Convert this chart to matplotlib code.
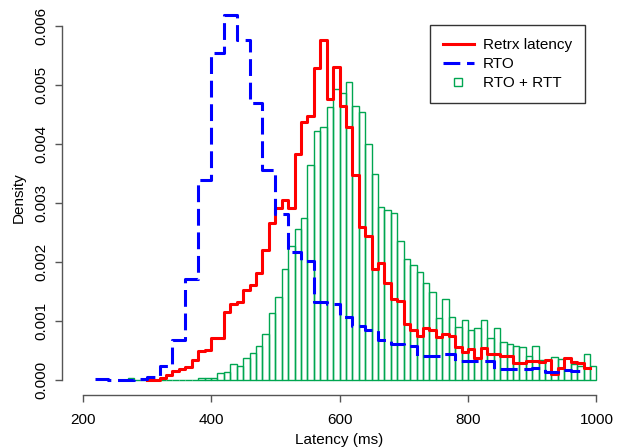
import matplotlib
matplotlib.use("Agg")
import matplotlib.pyplot as plt
import numpy as np
from matplotlib.lines import Line2D

plt.rcParams['font.family'] = ['Liberation Sans', 'DejaVu Sans']

# RTO + RTT histogram, 10 ms bins starting at 270 ms
rtt_start = 270
rtt_density = [
    0.00004, 0.0, 0.0, 0.0, 0.0, 0.0, 0.0, 0.0, 0.00001, 0.00001,
    0.0, 0.00004, 0.00004, 0.00004, 0.00013, 0.00014, 0.00027, 0.00024, 0.00038, 0.00047,
    0.00059, 0.00078, 0.00114, 0.00141, 0.00189, 0.00227, 0.00257, 0.00275, 0.00364, 0.00423,
    0.00429, 0.00462, 0.00493, 0.00486, 0.00505, 0.00464, 0.00455, 0.00400, 0.00349, 0.00294,
    0.00289, 0.00283, 0.00236, 0.00206, 0.00195, 0.00183, 0.00164, 0.00149, 0.00105, 0.00138,
    0.00107, 0.00090, 0.00103, 0.00085, 0.00089, 0.00102, 0.00072, 0.00088, 0.00065, 0.00061,
    0.00058, 0.00056, 0.00041, 0.00059, 0.00034, 0.00035, 0.00040, 0.00037, 0.00038, 0.00028,
    0.00025, 0.00044, 0.00025,
]

# retransmission latency, 10 ms bins starting at 300 ms
retrx_start = 300
retrx_density = [
    0.00001, 0.0, 0.00004, 0.00009, 0.00015, 0.00020, 0.00023, 0.00034, 0.00049, 0.00051,
    0.00072, 0.00072, 0.00115, 0.00129, 0.00133, 0.00153, 0.00161, 0.00182, 0.00221, 0.00267,
    0.00292, 0.00305, 0.00291, 0.00384, 0.00438, 0.00447, 0.00529, 0.00576, 0.00477, 0.00531,
    0.00464, 0.00429, 0.00347, 0.00260, 0.00245, 0.00189, 0.00199, 0.00164, 0.00137, 0.00135,
    0.00096, 0.00085, 0.00075, 0.00088, 0.00086, 0.00074, 0.00078, 0.00075, 0.00057, 0.00048,
    0.00053, 0.00038, 0.00055, 0.00045, 0.00044, 0.00042, 0.00041, 0.00030, 0.00030, 0.00033,
    0.00033, 0.00031, 0.00034, 0.00010, 0.00021, 0.00038, 0.00031, 0.00029, 0.00021,
]

# RTO, 20 ms bins starting at 220 ms
rto_start = 220
rto_density = [
    0.00002, 0.0, 0.00001, 0.00002, 0.00005, 0.00024, 0.00069, 0.00171, 0.00340, 0.00554,
    0.00619, 0.00576, 0.00470, 0.00357, 0.00281, 0.00217, 0.00202, 0.00132, 0.00129, 0.00107,
    0.00092, 0.00085, 0.00069, 0.00062, 0.00058, 0.00042, 0.00041, 0.00045, 0.00033, 0.00032,
    0.00032, 0.00020, 0.00020, 0.00020, 0.00021, 0.00014, 0.00018, 0.00016,
]

x_ticks = [200, 400, 600, 800, 1000]
y_ticks = [0.000, 0.001, 0.002, 0.003, 0.004, 0.005, 0.006]

green = '#00a651'
fig = plt.figure(figsize=(6.19, 4.48), dpi=100)
ax = fig.add_axes([62 / 619, 53 / 448, 555 / 619, 395 / 448])

# histogram outlines
rtt_left = rtt_start + 10 * np.arange(len(rtt_density))
ax.bar(rtt_left, rtt_density, width=10, align='edge', fill=False,
       edgecolor=green, linewidth=1.0, zorder=1)

# step lines
retrx_edges = retrx_start + 10 * np.arange(len(retrx_density) + 1)
ax.step(retrx_edges, list(retrx_density) + [retrx_density[-1]], where='post',
        color='red', linewidth=2.2, zorder=2)

rto_edges = rto_start + 20 * np.arange(len(rto_density) + 1)
ax.step(rto_edges, list(rto_density) + [rto_density[-1]], where='post',
        color='blue', linewidth=2.2, dashes=(5.5, 2.2), zorder=3)

ax.set_xlim(168, 1032)
ax.set_ylim(-0.000248, 0.00644)

for s in ['top', 'right']:
    ax.spines[s].set_visible(False)
ax.spines['left'].set_bounds(0, 0.006)
ax.spines['bottom'].set_bounds(200, 1000)
for s in ['left', 'bottom']:
    ax.spines[s].set_color('#555555')
    ax.spines[s].set_linewidth(1.0)

ax.set_xticks(x_ticks)
ax.set_xticklabels([str(t) for t in x_ticks])
ax.set_yticks(y_ticks)
ax.set_yticklabels(['%.3f' % t for t in y_ticks], rotation=90, va='center')
ax.tick_params(axis='both', direction='out', length=5, width=1.0,
               color='#555555', labelsize=11)
ax.tick_params(axis='x', pad=8)
ax.tick_params(axis='y', pad=5)

ax.set_xlabel('Latency (ms)', fontsize=11, labelpad=4)
ax.set_ylabel('Density', fontsize=11, labelpad=6)

handles = [
    Line2D([], [], color='red', linewidth=2.2),
    Line2D([], [], color='blue', linewidth=2.2, dashes=(5.5, 2.2)),
    Line2D([], [], color=green, linestyle='none', marker='s',
           markerfacecolor='none', markeredgecolor=green, markersize=5.5),
]
leg = ax.legend(handles, ['Retrx latency', 'RTO', 'RTO + RTT'],
                loc='upper left', bbox_to_anchor=(0.663, 0.937),
                borderaxespad=0, fontsize=11, fancybox=False,
                handlelength=2.0, handletextpad=0.6, labelspacing=0.33,
                borderpad=0.85, framealpha=1)
leg.get_frame().set_edgecolor('#333333')
leg.get_frame().set_linewidth(1.0)

fig.savefig('out.png', dpi=100)
